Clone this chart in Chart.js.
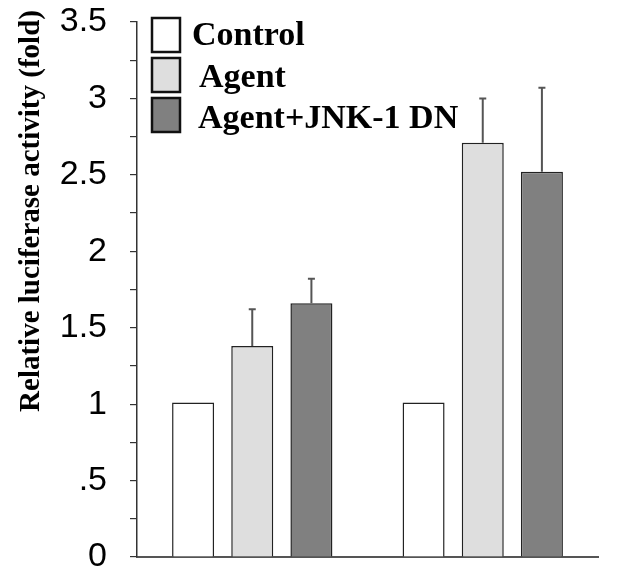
<!DOCTYPE html>
<html>
<head>
<meta charset="utf-8">
<script src="https://cdn.jsdelivr.net/npm/chart.js@4"></script>
<style>
  html, body { margin: 0; padding: 0; background: #fff; }
  #wrap { width: 622px; height: 575px; }
</style>
</head>
<body>
<div id="wrap"><canvas id="chart" width="622" height="575"></canvas></div>
<script>
'use strict';

// groups on the x axis (no labels shown in the figure)
const groups = ['1', '2'];
const seriesNames = ['Control', 'Agent', 'Agent+JNK-1 DN'];
const controlValues = [1.01, 1.01];
const agentValues = [1.38, 2.71];
const jnkValues = [1.66, 2.52];
const agentErrors = [0.24, 0.29];
const jnkErrors = [0.16, 0.55];
const tickLabels = ['0', '.5', '1', '1.5', '2', '2.5', '3', '3.5'];
const yTitle = 'Relative luciferase activity (fold)';

const fills = ['#ffffff', '#dedede', '#808080'];

// error bars: only the upper whisker with a small cap
const errorBars = {
  id: 'errorBars',
  afterDatasetsDraw(chart) {
    const ctx = chart.ctx;
    const y = chart.scales.y;
    ctx.save();
    chart.data.datasets.forEach((ds, di) => {
      if (!ds.errors) return;
      const meta = chart.getDatasetMeta(di);
      meta.data.forEach((bar, i) => {
        const top = y.getPixelForValue(ds.data[i] + ds.errors[i]);
        ctx.strokeStyle = '#555';
        ctx.lineWidth = 2;
        ctx.beginPath();
        ctx.moveTo(bar.x, bar.y);
        ctx.lineTo(bar.x, top);
        ctx.moveTo(bar.x - 3.5, top);
        ctx.lineTo(bar.x + 3.5, top);
        ctx.stroke();
      });
    });
    ctx.restore();
  }
};

// legend boxes and the rotated y title, placed like the figure
const decorations = {
  id: 'decorations',
  afterDraw(chart) {
    const ctx = chart.ctx;
    ctx.save();
    const rows = [
      {boxY: 18, textX: 192, baseY: 45},
      {boxY: 58, textX: 199, baseY: 87},
      {boxY: 98, textX: 198, baseY: 128}
    ];
    ctx.font = 'bold 34px "Liberation Serif"';
    ctx.textBaseline = 'alphabetic';
    ctx.textAlign = 'left';
    seriesNames.forEach((name, i) => {
      const r = rows[i];
      ctx.fillStyle = fills[i];
      ctx.fillRect(152, r.boxY, 28, 34);
      ctx.strokeStyle = '#111';
      ctx.lineWidth = 2.5;
      ctx.strokeRect(152, r.boxY, 28, 34);
      ctx.fillStyle = '#000';
      ctx.fillText(name, r.textX, r.baseY);
    });

    ctx.translate(39, 211);
    ctx.rotate(-Math.PI / 2);
    ctx.font = 'bold 29px "Liberation Serif"';
    ctx.textAlign = 'center';
    ctx.fillText(yTitle, 0, 0);
    ctx.restore();
  }
};

const datasets = [
  {label: seriesNames[0], data: controlValues, backgroundColor: fills[0]},
  {label: seriesNames[1], data: agentValues, backgroundColor: fills[1], errors: agentErrors},
  {label: seriesNames[2], data: jnkValues, backgroundColor: fills[2], errors: jnkErrors}
].map(d => Object.assign(d, {
  borderColor: '#222',
  borderWidth: 1.5,
  categoryPercentage: 0.77,
  barPercentage: 0.71
}));

new Chart(document.getElementById('chart'), {
  type: 'bar',
  data: {labels: groups, datasets: datasets},
  options: {
    responsive: false,
    animation: false,
    layout: {padding: {top: 22, right: 24, bottom: 18, left: 0}},
    plugins: {legend: {display: false}, tooltip: {enabled: false}},
    scales: {
      x: {
        ticks: {display: false},
        grid: {drawOnChartArea: false, drawTicks: false},
        border: {color: '#555', width: 2},
        afterFit(scale) { scale.height = 0; scale.paddingLeft = 0; scale.paddingRight = 0; }
      },
      y: {
        min: 0,
        max: 3.5,
        afterFit(scale) {
          scale.width = 137;
          scale.paddingTop = 0;
          scale.paddingBottom = 0;
        },
        ticks: {
          stepSize: 0.25,
          autoSkip: false,
          padding: 23,
          color: '#000',
          font: {family: '"Liberation Sans"', size: 34},
          callback(value) {
            const k = value * 2;
            return Number.isInteger(k) ? tickLabels[k] : '';
          }
        },
        grid: {drawOnChartArea: false, tickLength: 7, color: '#333', lineWidth: 1.2},
        border: {color: '#333', width: 1.5}
      }
    }
  },
  plugins: [errorBars, decorations]
});
</script>
</body>
</html>
